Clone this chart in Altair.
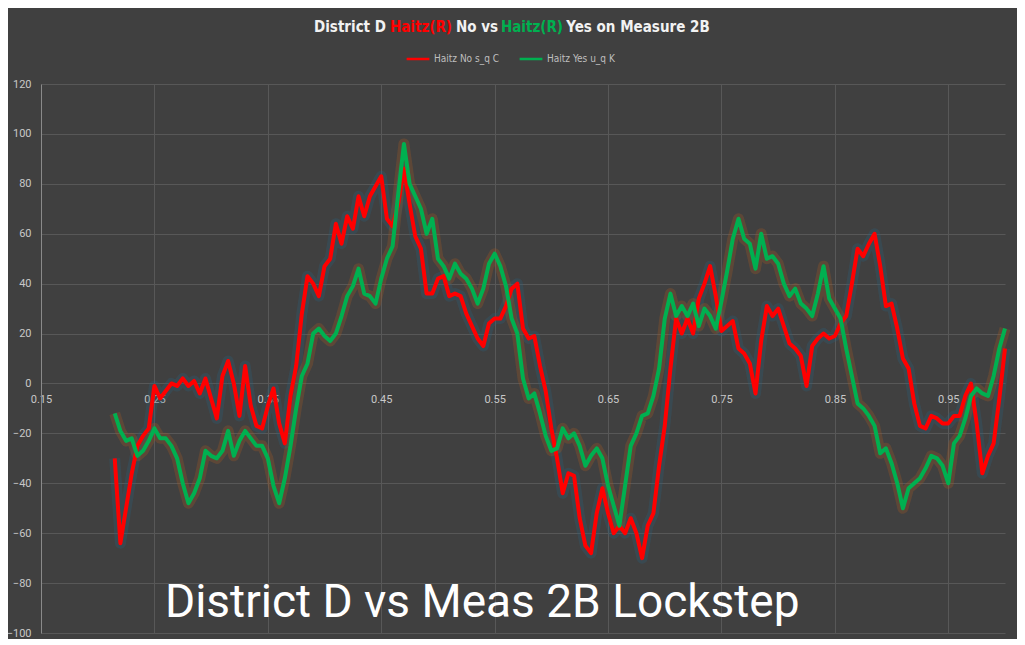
import altair as alt
import pandas as pd

# x sampling of the traced series
X_START = 0.215
X_STEP = 0.005

# Haitz No s_q C (red), values read at 0.215, 0.220, ... 1.000
red_no = [
    -30, -64, -50, -36, -25, -21, -18, -1, -6, -3,
    0, -1, 2, -1, 1, -4, 2, -6, -14, 3,
    9, 0, -13, 7, -9, -17, -18, -9, -2, -16,
    -24, -5, 7, 28, 43, 40, 35, 47, 50, 64,
    56, 67, 62, 75, 67, 75, 79, 83, 66, 63,
    72, 86, 72, 59, 54, 36, 36, 42, 43, 35,
    36, 35, 28, 23, 18, 15, 24, 26, 26, 31,
    38, 40, 22, 18, 19, 7, -3, -18, -30, -44,
    -36, -37, -54, -65, -68, -52, -42, -52, -60, -57,
    -60, -54, -60, -70, -57, -52, -33, -17, 6, 26,
    20, 26, 20, 34, 40, 47, 35, 21, 23, 25,
    14, 12, 8, -4, 17, 31, 27, 30, 23, 16,
    14, 11, -1, 15, 18, 20, 18, 19, 24, 27,
    40, 54, 51, 56, 60, 47, 31, 32, 22, 10,
    6, -8, -17, -18, -13, -14, -16, -16, -13, -13,
    -5, 0, -16, -36, -29, -24, -6, 14,
]

# Haitz Yes u_q K (green), same x positions
green_yes = [
    -12, -19, -23, -22, -29, -27, -23, -18, -22, -22,
    -25, -30, -40, -48, -44, -38, -27, -29, -30, -27,
    -19, -29, -23, -19, -22, -25, -25, -30, -41, -48,
    -38, -25, -10, 3, 8, 20, 22, 19, 17, 20,
    27, 35, 39, 46, 36, 35, 32, 42, 50, 55,
    76, 96, 80, 75, 70, 60, 66, 50, 47, 42,
    48, 44, 42, 38, 32, 38, 48, 52, 47, 39,
    26, 20, 2, -6, -4, -12, -21, -27, -26, -18,
    -22, -20, -25, -33, -29, -26, -30, -41, -49, -57,
    -41, -25, -20, -13, -12, -5, 6, 26, 36, 27,
    31, 27, 32, 23, 30, 27, 22, 33, 45, 58,
    66, 58, 56, 46, 60, 50, 51, 48, 40, 35,
    38, 32, 30, 27, 36, 47, 34, 30, 26, 14,
    3, -8, -10, -13, -17, -28, -26, -32, -40, -50,
    -42, -40, -38, -34, -29, -30, -33, -40, -24, -21,
    -14, -5, -2, -4, -5, 3, 14, 22,
]

series_names = ["Haitz No s_q C", "Haitz Yes u_q K"]
series_colors = ["#ff0000", "#00b050"]
glow_colors = ["#2c5f7c", "#a35a24"]

x_ticks = [0.15, 0.25, 0.35, 0.45, 0.55, 0.65, 0.75, 0.85, 0.95]
y_ticks = [-100, -80, -60, -40, -20, 0, 20, 40, 60, 80, 100, 120]

rows = []
for name, vals in zip(series_names, [red_no, green_yes]):
    for i, v in enumerate(vals):
        rows.append({"x": round(X_START + i * X_STEP, 3), "y": v, "series": name})
df = pd.DataFrame(rows)

x_scale = alt.Scale(domain=[0.15, 1.0], nice=False, zero=False)
y_scale = alt.Scale(domain=[-100, 120], nice=False, zero=False)

x_enc = alt.X(
    "x:Q", scale=x_scale,
    axis=alt.Axis(values=x_ticks, format=".2f", title=None, offset=-249,
                  domain=False, ticks=False, labelPadding=9, grid=True,
                  labelFlush=False),
)
y_enc = alt.Y(
    "y:Q", scale=y_scale,
    axis=alt.Axis(values=y_ticks, title=None, ticks=False, labelPadding=10,
                  domain=True, domainColor="#8a8a8a", grid=True),
)

base = alt.Chart(df)

layers = []
for name, gc in zip(series_names, glow_colors):
    layers.append(
        base.transform_filter(alt.datum.series == name)
        .mark_line(strokeWidth=11, opacity=0.3, color=gc, strokeJoin="round")
        .encode(x=x_enc, y=y_enc)
    )

lines = base.mark_line(strokeWidth=4, strokeJoin="round").encode(
    x=x_enc,
    y=y_enc,
    color=alt.Color(
        "series:N",
        scale=alt.Scale(domain=series_names, range=series_colors),
        legend=alt.Legend(
            orient="none", legendX=364, legendY=-38, direction="horizontal",
            title=None, symbolType="stroke", symbolSize=520,
            symbolStrokeWidth=2.5, labelColor="#bfbfbf", labelFontSize=10,
            labelFont="Liberation Sans Narrow, DejaVu Sans Condensed, sans-serif",
            columnPadding=14, labelOffset=3,
        ),
    ),
)
layers.append(lines)

one = alt.Data(values=[{"k": 1}])
title_font = "Liberation Sans Narrow, DejaVu Sans Condensed, sans-serif"
title_parts = [
    ("District D", "#f2f2f2", 309),
    ("Haitz(R)", "#ff0000", 380),
    ("No vs", "#f2f2f2", 436),
    ("Haitz(R)", "#00b050", 491),
    ("Yes on Measure 2B", "#f2f2f2", 597),
]
for txt, col, xc in title_parts:
    layers.append(
        alt.Chart(one).mark_text(
            text=txt, color=col, x=xc, y=-57, align="center", baseline="middle",
            font=title_font, fontSize=15, fontWeight="bold",
        ).encode(opacity=alt.value(1))
    )

layers.append(
    alt.Chart(one).mark_text(
        text="District D vs Meas 2B Lockstep", color="#ffffff", x=124, y=533,
        align="left", baseline="alphabetic", font="Roboto", fontSize=46,
    ).encode(opacity=alt.value(1))
)

chart = (
    alt.layer(*layers)
    .properties(
        width=964, height=549,
        autosize=alt.AutoSizeParams(type="none"),
        padding={"left": 33, "top": 76, "right": 12, "bottom": 6},
        background="#404040",
    )
    .configure_view(stroke=None)
    .configure_axis(
        gridColor="#585858", gridWidth=1, labelColor="#c8c8c8",
        labelFont="Roboto", labelFontSize=11,
    )
)

chart.save("out.html", embed_options={"renderer": "svg", "actions": False})
